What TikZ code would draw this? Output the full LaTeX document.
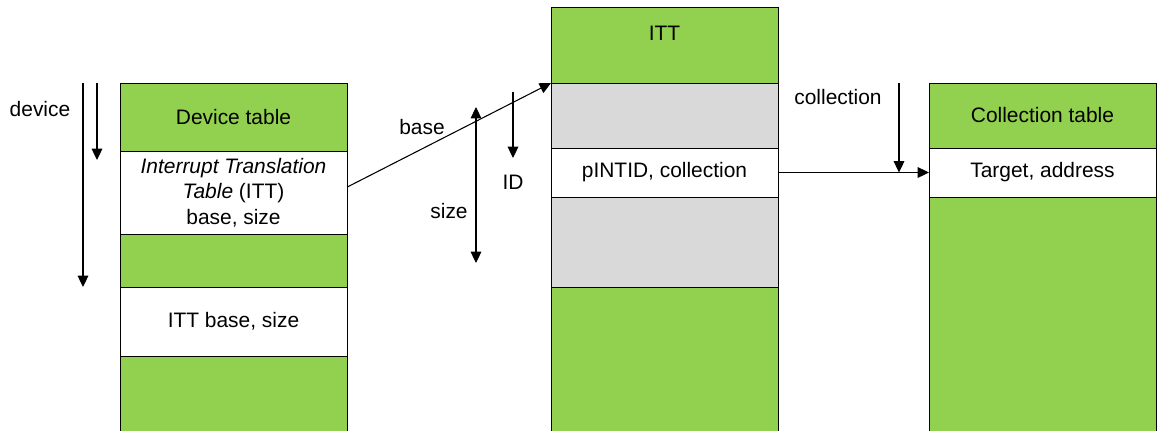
\documentclass[tikz,border=0pt]{standalone}
\usepackage{fontspec}
\setmainfont{Liberation Sans}
\usetikzlibrary{arrows.meta}

\definecolor{tblgreen}{HTML}{92D050}
\definecolor{tblgray}{HTML}{D9D9D9}

\tikzstyle{band} = [draw=black, line width=0.75pt, rectangle, inner sep=0pt,
  outer sep=0pt, minimum width=170.25pt, align=center,
  font=\fontsize{15.7}{19}\selectfont]
\tikzstyle{greenband} = [band, fill=tblgreen]
\tikzstyle{grayband} = [band, fill=tblgray]
\tikzstyle{whiteband} = [band, fill=white]
\tikzstyle{lbl} = [inner sep=0pt, font=\fontsize{15.7}{19}\selectfont]
\tikzstyle{ptr} = [-{Triangle[length=8.5pt,width=8pt]}, line width=0.8pt]
\tikzstyle{dptr} = [{Triangle[length=8.5pt,width=8pt]}-{Triangle[length=8.5pt,width=8pt]},
  line width=0.8pt]

\begin{document}
\begin{tikzpicture}[x=0.75pt, y=-0.75pt]
        \useasboundingbox (0,0) rectangle (1157,430);
        \clip (0,0) rectangle (1157,430);

        % device table
        \node [greenband, minimum height=51pt]    (devhead)  at (233.5,117)   {Device table};
        \node [whiteband, minimum height=62.25pt] (devitt)   at (233.5,192.5) {\textit{Interrupt Translation}\\\textit{Table} (ITT)\\base, size};
        \node [greenband, minimum height=39.75pt] (devgap)   at (233.5,260.5) {};
        \node [whiteband, minimum height=51.75pt] (devitt2)  at (233.5,321.5) {ITT base, size};
        \node [greenband, minimum height=63pt]    (devrest)  at (233.5,398)   {};

        % interrupt translation table
        \node [greenband, minimum height=57pt]    (itthead)  at (664.5,45)    {};
        \node [lbl]                               (ittname)  at (664.5,33)    {ITT};
        \node [grayband,  minimum height=48.75pt] (ittgap1)  at (664.5,115.5) {};
        \node [whiteband, minimum height=36.75pt] (ittentry) at (664.5,172.5) {pINTID, collection};
        \node [grayband,  minimum height=67.5pt]  (ittgap2)  at (664.5,242)   {};
        \node [greenband, minimum height=114.75pt](ittrest)  at (664.5,363.5) {};

        % collection table
        \node [greenband, minimum height=48.75pt] (colhead)  at (1042.5,115.5) {Collection table};
        \node [whiteband, minimum height=36.75pt] (colentry) at (1042.5,172.5) {Target, address};
        \node [greenband, minimum height=182.25pt](colrest)  at (1042.5,318.5) {};

        % index arrows
        \coordinate (devA) at (83,83);   \coordinate (devB) at (83,287);
        \coordinate (devC) at (97,83);   \coordinate (devD) at (97,160);
        \coordinate (sizeA) at (476,107); \coordinate (sizeB) at (476,263);
        \coordinate (idA) at (513,92);   \coordinate (idB) at (513,158);
        \coordinate (colA) at (899,83);
        \coordinate (colB) at (colA |- colentry.west);

        \draw[ptr] (devA) -- (devB);
        \draw[ptr] (devC) -- (devD);
        \draw[ptr] ([yshift=4pt]devitt.east) -- (itthead.south west);
        \draw[dptr] (sizeA) -- (sizeB);
        \draw[ptr] (idA) -- (idB);
        \draw[ptr] (ittentry.east) -- (colentry.west);
        \draw[ptr] (colA) -- (colB);

        \node [lbl] (devicelbl) at (40,109)  {device};
        \node [lbl] (baselbl)   at (422,127) {base};
        \node [lbl] (sizelbl)   at (449,211) {size};
        \node [lbl] (idlbl)     at (513,182) {ID};
        \node [lbl] (collbl)    at (838,97)  {collection};
      \end{tikzpicture}
\end{document}
